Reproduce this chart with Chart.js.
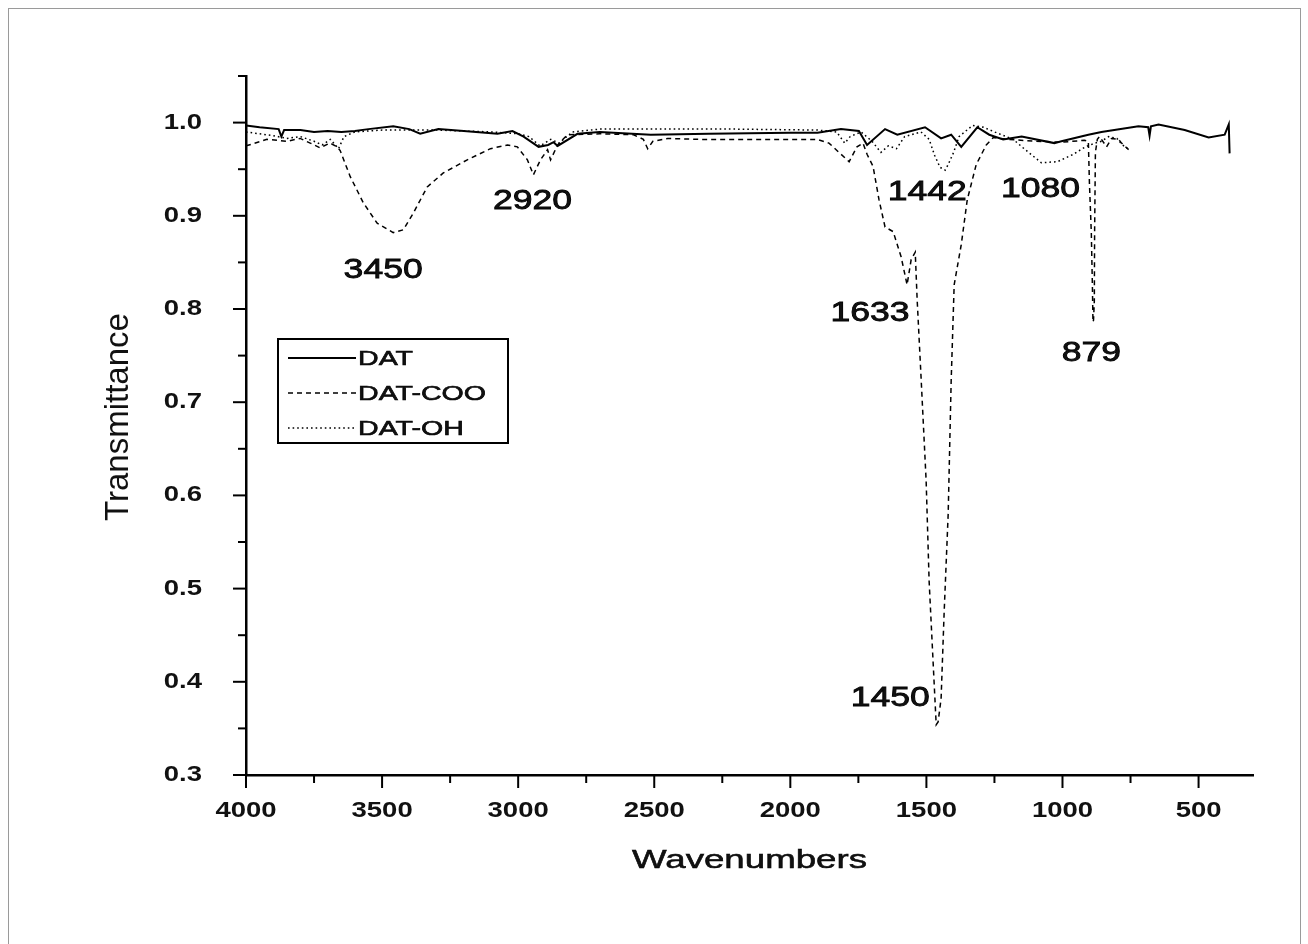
<!DOCTYPE html>
<html>
<head>
<meta charset="utf-8">
<title>FTIR</title>
<script src="https://cdn.jsdelivr.net/npm/chart.js@4.4.1/dist/chart.umd.min.js"></script>
<style>
  html, body { margin: 0; padding: 0; background: #fff; overflow: hidden; }
  #wrap { position: relative; width: 1308px; height: 944px; }
  #frame {
    position: absolute; left: 8px; top: 8px; width: 1291px; height: 950px;
    border: 1px solid #9a9a9a; pointer-events: none;
  }
</style>
</head>
<body>
<div id="wrap">
  <canvas id="chart"></canvas>
  <div id="frame"></div>
</div>
<script>
// Спектры (волновое число, пропускание)
const datWavenumbers = [4000, 3950, 3880, 3870, 3860, 3800, 3750, 3700, 3650, 3600, 3550, 3459, 3400, 3360, 3293, 3200, 3076, 3021, 2980, 2925, 2890, 2870, 2855, 2782, 2700, 2513, 2300, 2000, 1900, 1814, 1748, 1718, 1652, 1607, 1505, 1446, 1409, 1372, 1313, 1269, 1218, 1150, 1030, 1004, 905, 857, 721, 685, 680, 675, 647, 551, 463, 404, 389, 386];
const datValues = [0.997, 0.995, 0.993, 0.985, 0.992, 0.992, 0.990, 0.991, 0.990, 0.991, 0.993, 0.996, 0.993, 0.988, 0.993, 0.991, 0.988, 0.991, 0.985, 0.974, 0.976, 0.979, 0.975, 0.988, 0.990, 0.987, 0.988, 0.989, 0.989, 0.993, 0.991, 0.976, 0.993, 0.987, 0.995, 0.983, 0.987, 0.974, 0.995, 0.987, 0.982, 0.985, 0.978, 0.980, 0.987, 0.990, 0.996, 0.995, 0.986, 0.996, 0.998, 0.992, 0.984, 0.987, 0.998, 0.967];

const cooWavenumbers = [4000, 3923, 3849, 3801, 3764, 3728, 3691, 3665, 3654, 3617, 3569, 3518, 3459, 3422, 3385, 3334, 3275, 3187, 3102, 3039, 3003, 2966, 2944, 2918, 2892, 2881, 2855, 2819, 2700, 2576, 2540, 2524, 2505, 2450, 2329, 2100, 1902, 1858, 1784, 1755, 1733, 1718, 1696, 1674, 1652, 1622, 1593, 1571, 1556, 1541, 1534, 1519, 1501, 1490, 1475, 1464, 1457, 1446, 1435, 1420, 1409, 1398, 1372, 1350, 1317, 1280, 1254, 1200, 1100, 1000, 920, 905, 901, 894, 890, 888, 886, 883, 882, 879, 872, 864, 838, 820, 794, 783, 757];
const cooValues = [0.975, 0.982, 0.980, 0.983, 0.978, 0.973, 0.978, 0.974, 0.970, 0.942, 0.914, 0.892, 0.882, 0.885, 0.903, 0.931, 0.946, 0.960, 0.972, 0.976, 0.974, 0.960, 0.944, 0.960, 0.971, 0.960, 0.976, 0.987, 0.988, 0.987, 0.982, 0.972, 0.980, 0.983, 0.982, 0.982, 0.982, 0.978, 0.958, 0.974, 0.978, 0.966, 0.953, 0.917, 0.888, 0.883, 0.856, 0.826, 0.853, 0.861, 0.810, 0.723, 0.616, 0.508, 0.419, 0.354, 0.357, 0.382, 0.473, 0.580, 0.723, 0.826, 0.869, 0.917, 0.955, 0.976, 0.984, 0.982, 0.980, 0.979, 0.981, 0.980, 0.935, 0.881, 0.823, 0.786, 0.788, 0.809, 0.881, 0.968, 0.982, 0.985, 0.974, 0.983, 0.982, 0.978, 0.971];

const ohWavenumbers = [4000, 3950, 3900, 3850, 3800, 3750, 3720, 3690, 3660, 3640, 3600, 3500, 3300, 3100, 3000, 2960, 2920, 2880, 2850, 2800, 2700, 2500, 2200, 1900, 1830, 1800, 1780, 1740, 1700, 1667, 1640, 1610, 1580, 1520, 1490, 1470, 1450, 1431, 1420, 1400, 1380, 1330, 1290, 1250, 1181, 1137, 1078, 1019, 960, 916, 880, 857, 830, 800, 780, 760];
const ohValues = [0.990, 0.988, 0.986, 0.983, 0.985, 0.980, 0.976, 0.982, 0.972, 0.985, 0.990, 0.992, 0.992, 0.990, 0.988, 0.985, 0.975, 0.982, 0.978, 0.990, 0.993, 0.993, 0.993, 0.992, 0.990, 0.978, 0.985, 0.990, 0.980, 0.968, 0.975, 0.972, 0.985, 0.990, 0.982, 0.965, 0.952, 0.949, 0.955, 0.968, 0.985, 0.997, 0.995, 0.990, 0.982, 0.971, 0.957, 0.958, 0.966, 0.974, 0.978, 0.980, 0.985, 0.983, 0.976, 0.972];

const seriesNames = ['DAT', 'DAT-COO', 'DAT-OH'];

// Деления осей
const xMajorTicks = [4000, 3500, 3000, 2500, 2000, 1500, 1000, 500];
const xMinorTicks = [3750, 3250, 2750, 2250, 1750, 1250, 750];
const yMajorTicks = [1.0, 0.9, 0.8, 0.7, 0.6, 0.5, 0.4, 0.3];
const yMinorTicks = [1.05, 0.95, 0.85, 0.75, 0.65, 0.55, 0.45, 0.35];

// Подписи пиков: текст и точка привязки в единицах данных
const peakTexts = ['3450', '2920', '1442', '1080', '1633', '879', '1450'];
const peakX = [3496, 2947, 1497, 1081, 1707, 894, 1633];
const peakY = [0.842, 0.916, 0.925, 0.928, 0.795, 0.753, 0.382];

const toPoints = (xs, ys) => xs.map((x, i) => ({ x, y: ys[i] }));

const lineStyles = [
  { width: 2, dash: [] },
  { width: 1.5, dash: [5, 4] },
  { width: 1.5, dash: [1.6, 3] }
];

// Текст, растянутый по горизонтали (как на скане)
function stretchText(ctx, text, x, y, align, sx, outline) {
  ctx.save();
  ctx.translate(x, y);
  ctx.scale(sx, 1);
  ctx.textAlign = align;
  ctx.fillText(text, 0, 0);
  if (outline) {
    ctx.lineWidth = outline;
    ctx.strokeText(text, 0, 0);
  }
  ctx.restore();
}

const decorPlugin = {
  id: 'decor',
  afterDraw(chart) {
    const { ctx, chartArea, scales: { x, y } } = chart;
    ctx.save();
    ctx.strokeStyle = '#000';
    ctx.fillStyle = '#111';
    ctx.lineWidth = 2;

    // деления
    const tick = (px, py, dx, dy) => {
      ctx.beginPath();
      ctx.moveTo(px, py);
      ctx.lineTo(px + dx, py + dy);
      ctx.stroke();
    };
    xMajorTicks.forEach(v => tick(x.getPixelForValue(v), chartArea.bottom, 0, 13));
    xMinorTicks.forEach(v => tick(x.getPixelForValue(v), chartArea.bottom, 0, 8));
    yMajorTicks.forEach(v => tick(chartArea.left, y.getPixelForValue(v), -13, 0));
    yMinorTicks.forEach(v => tick(chartArea.left, y.getPixelForValue(v), -8, 0));

    // подписи делений
    ctx.font = 'bold 22px "Liberation Sans", Arial, sans-serif';
    ctx.textBaseline = 'middle';
    xMajorTicks.forEach(v => stretchText(ctx, String(v), x.getPixelForValue(v), chartArea.bottom + 36, 'center', 1.25));
    yMajorTicks.forEach(v => stretchText(ctx, v.toFixed(1), chartArea.left - 44, y.getPixelForValue(v), 'right', 1.25));

    // названия осей
    ctx.font = '26px "Liberation Sans", Arial, sans-serif';
    ctx.textBaseline = 'alphabetic';
    stretchText(ctx, 'Wavenumbers', (chartArea.left + chartArea.right) / 2, chartArea.bottom + 93, 'center', 1.41, 0.5);

    ctx.save();
    ctx.translate(128, 417);
    ctx.rotate(-Math.PI / 2);
    ctx.font = '33px "Liberation Sans", Arial, sans-serif';
    ctx.textAlign = 'center';
    ctx.fillText('Transmittance', 0, 0);
    ctx.restore();

    // подписи пиков
    ctx.font = '28px "Liberation Sans", Arial, sans-serif';
    ctx.textBaseline = 'middle';
    peakTexts.forEach((t, i) => {
      stretchText(ctx, t, x.getPixelForValue(peakX[i]), y.getPixelForValue(peakY[i]), 'center', 1.27, 0.8);
    });

    // легенда
    const bx = chartArea.left + 32, by = chartArea.top + 263, bw = 230, bh = 104;
    ctx.lineWidth = 2;
    ctx.setLineDash([]);
    ctx.strokeRect(bx, by, bw, bh);
    ctx.font = '21px "Liberation Sans", Arial, sans-serif';
    seriesNames.forEach((name, i) => {
      const ly = by + 19 + i * 35;
      ctx.lineWidth = lineStyles[i].width;
      ctx.setLineDash(lineStyles[i].dash);
      ctx.beginPath();
      ctx.moveTo(bx + 10, ly);
      ctx.lineTo(bx + 78, ly);
      ctx.stroke();
      ctx.setLineDash([]);
      stretchText(ctx, name, bx + 80, ly + 1, 'left', 1.36, 0.6);
    });
    ctx.restore();
  }
};

const datasets = [
  toPoints(datWavenumbers, datValues),
  toPoints(cooWavenumbers, cooValues),
  toPoints(ohWavenumbers, ohValues)
].map((data, i) => ({
  label: seriesNames[i],
  data,
  borderColor: '#000',
  borderWidth: lineStyles[i].width,
  borderDash: lineStyles[i].dash,
  pointRadius: 0,
  tension: 0,
  fill: false
}));

const canvas = document.getElementById('chart');
canvas.parentNode.style.width = '1308px';
canvas.parentNode.style.height = '944px';

new Chart(canvas, {
  type: 'line',
  data: { datasets },
  options: {
    responsive: true,
    maintainAspectRatio: false,
    animation: false,
    layout: { padding: { left: 238, right: 55, top: 76, bottom: 161 } },
    plugins: { legend: { display: false }, tooltip: { enabled: false } },
    scales: {
      x: {
        type: 'linear',
        reverse: true,
        min: 300,
        max: 4000,
        ticks: { display: false },
        grid: { display: false },
        border: { display: true, color: '#000', width: 2.5 }
      },
      y: {
        type: 'linear',
        min: 0.3,
        max: 1.05,
        ticks: { display: false },
        grid: { display: false },
        border: { display: true, color: '#000', width: 2.5 }
      }
    }
  },
  plugins: [decorPlugin]
});
</script>
</body>
</html>
